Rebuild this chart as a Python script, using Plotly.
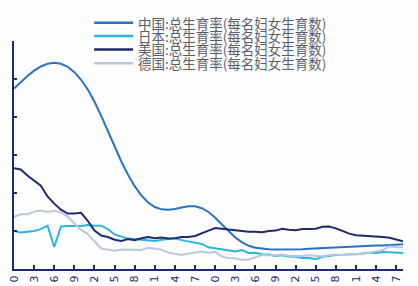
import plotly.graph_objects as go

years = list(range(1960, 2019))

china = [5.75, 5.92, 6.08, 6.22, 6.33, 6.40, 6.43, 6.40, 6.32, 6.18,
         5.98, 5.72, 5.40, 5.03, 4.63, 4.22, 3.83, 3.48, 3.18, 2.93,
         2.75, 2.63, 2.57, 2.56, 2.58, 2.62, 2.65, 2.65, 2.60, 2.50,
         2.35, 2.17, 1.99, 1.83, 1.70, 1.61, 1.56, 1.53, 1.52, 1.51,
         1.51, 1.51, 1.52, 1.52, 1.53, 1.54, 1.55, 1.56, 1.57, 1.58,
         1.59, 1.60, 1.61, 1.61, 1.62, 1.62, 1.63, 1.64, 1.65]

japan = [2.00, 1.96, 1.98, 2.00, 2.05, 2.14, 1.58, 2.12, 2.13, 2.13,
         2.13, 2.16, 2.14, 2.14, 2.05, 1.91, 1.85, 1.80, 1.79, 1.77,
         1.75, 1.74, 1.77, 1.80, 1.81, 1.76, 1.72, 1.69, 1.66, 1.57,
         1.54, 1.53, 1.50, 1.46, 1.50, 1.42, 1.43, 1.39, 1.38, 1.34,
         1.36, 1.33, 1.32, 1.29, 1.29, 1.26, 1.32, 1.34, 1.37, 1.37,
         1.39, 1.39, 1.41, 1.43, 1.42, 1.45, 1.44, 1.43, 1.42]

usa = [3.65, 3.62, 3.46, 3.32, 3.19, 2.91, 2.72, 2.56, 2.46, 2.46,
       2.48, 2.27, 2.01, 1.88, 1.84, 1.77, 1.74, 1.79, 1.76, 1.81,
       1.84, 1.81, 1.83, 1.80, 1.81, 1.84, 1.84, 1.87, 1.93, 2.01,
       2.08, 2.06, 2.05, 2.02, 2.00, 1.98, 1.98, 1.97, 2.00, 2.01,
       2.06, 2.03, 2.02, 2.05, 2.05, 2.06, 2.11, 2.12, 2.07, 2.00,
       1.93, 1.89, 1.88, 1.86, 1.86, 1.84, 1.82, 1.77, 1.73]

germany = [2.37, 2.44, 2.44, 2.51, 2.54, 2.50, 2.53, 2.49, 2.38, 2.21,
           2.03, 1.92, 1.72, 1.54, 1.51, 1.48, 1.51, 1.51, 1.50, 1.50,
           1.56, 1.53, 1.51, 1.43, 1.39, 1.37, 1.41, 1.43, 1.46, 1.42,
           1.45, 1.33, 1.29, 1.28, 1.24, 1.25, 1.32, 1.37, 1.36, 1.36,
           1.38, 1.35, 1.34, 1.34, 1.36, 1.34, 1.33, 1.37, 1.38, 1.36,
           1.39, 1.39, 1.41, 1.42, 1.47, 1.50, 1.60, 1.57, 1.57]

names = ["中国:总生育率(每名妇女生育数)", "日本:总生育率(每名妇女生育数)",
         "美国:总生育率(每名妇女生育数)", "德国:总生育率(每名妇女生育数)"]
colors = ["#2a72c2", "#2bb6d9", "#1d2b6c", "#b9c7df"]
series = [china, japan, usa, germany]

tick_years = list(range(1960, 2018, 3))
tick_text = [str(y)[-1] for y in tick_years]

AXIS = "#1d2b6c"
fig = go.Figure()
for name, col, vals in zip(names, colors, series):
    fig.add_trace(go.Scatter(x=years, y=vals, mode="lines", name=name,
                             line=dict(color=col, width=2), showlegend=False))

# manual legend (tight spacing as in reference)
leg_y = [1.080, 1.022, 0.963, 0.902]
for name, col, yy in zip(names, colors, leg_y):
    fig.add_shape(type="line", xref="paper", yref="paper",
                  x0=0.206, x1=0.306, y0=yy, y1=yy,
                  line=dict(color=col, width=2.5))
    fig.add_annotation(xref="paper", yref="paper", x=0.317, y=yy,
                       text=name, showarrow=False, xanchor="left", yanchor="middle",
                       borderpad=0,
                       font=dict(family="Noto Sans CJK SC", size=13.5, color="#5a5e6b"))

fig.update_layout(
    width=418, height=286,
    margin=dict(l=14, r=15, t=41, b=17),
    paper_bgcolor="#fdfdfe", plot_bgcolor="#fdfdfe",
    showlegend=False,
    xaxis=dict(range=[1960, 2018], tickvals=tick_years, ticktext=tick_text,
               tickangle=-90, showgrid=False, zeroline=False,
               showline=True, linecolor=AXIS, linewidth=2,
               ticks="inside", ticklen=4, tickwidth=1.5, tickcolor=AXIS,
               tickfont=dict(family="DejaVu Sans", size=11, color=AXIS),
               automargin=False),
    yaxis=dict(range=[1, 7], tickvals=[1, 2, 3, 4, 5, 6, 7], showgrid=False,
               zeroline=False, showline=True, linecolor=AXIS, linewidth=2,
               ticks="inside", ticklen=3, tickwidth=1.5, tickcolor=AXIS,
               showticklabels=False, automargin=False),
)

fig.write_html("out.html")
